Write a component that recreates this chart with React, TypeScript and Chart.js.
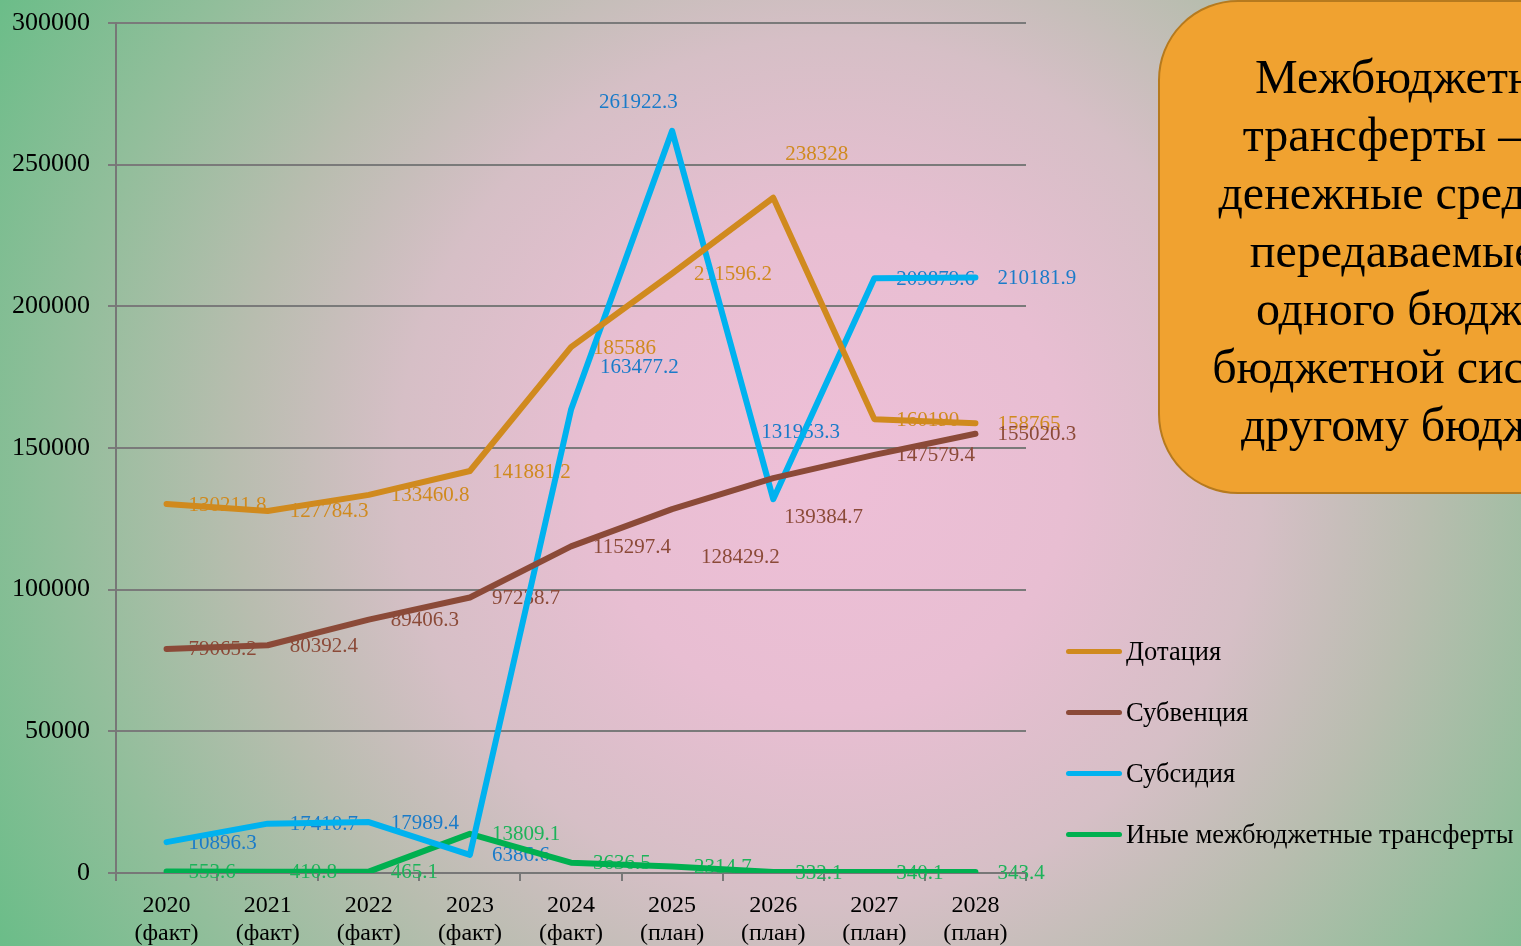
import React, { useEffect, useRef } from "react";
import { Chart, registerables } from "chart.js";

Chart.register(...registerables);

const years = ["2020", "2021", "2022", "2023", "2024", "2025", "2026", "2027", "2028"];
const periodKinds = ["(факт)", "(факт)", "(факт)", "(факт)", "(факт)", "(план)", "(план)", "(план)", "(план)"];

const seriesNames = ["Дотация", "Субвенция", "Субсидия", "Иные межбюджетные трансферты"];

const dotatsiya = [130211.8, 127784.3, 133460.8, 141881.2, 185586, 211596.2, 238328, 160190, 158765];
const subventsiya = [79065.2, 80392.4, 89406.3, 97238.7, 115297.4, 128429.2, 139384.7, 147579.4, 155020.3];
const subsidiya = [10896.3, 17410.7, 17989.4, 6386.6, 163477.2, 261922.3, 131953.3, 209879.6, 210181.9];
const inye = [553.6, 410.8, 465.1, 13809.1, 3636.5, 2314.7, 332.1, 340.1, 343.4];

const yTicks = [0, 50000, 100000, 150000, 200000, 250000, 300000];

const lineColors = ["#D08A1E", "#8B4A38", "#00B2EF", "#00B050"];
const labelColors = ["#D08A1E", "#8B4A38", "#1A7BC9", "#1DB35A"];

// label placement nudges relative to the point (left edge dx, vertical centre dy)
const labelNudges: Record<string, [number, number]> = {
  "2:5": [-73, -28],
  "0:6": [12, -43],
  "2:4": [29, -42],
  "2:6": [-12, -67],
  "1:6": [11, 39],
  "1:5": [29, 48],
};

const boxLines = [
  "Межбюджетные",
  "трансферты – это",
  "денежные средства,",
  "передаваемые из",
  "одного бюджета",
  "бюджетной системы",
  "другому бюджету",
];

const labelPlugin = {
  id: "valueLabels",
  beforeDatasetsDraw(chart: any) {
    const ctx = chart.ctx;
    ctx.save();
    ctx.font = '21px "Liberation Serif", serif';
    ctx.textAlign = "left";
    ctx.textBaseline = "middle";
    chart.data.datasets.forEach((ds: any, di: number) => {
      const meta = chart.getDatasetMeta(di);
      meta.data.forEach((pt: any, i: number) => {
        const v = ds.data[i];
        const n = labelNudges[di + ":" + i] || [22, 1];
        ctx.fillStyle = labelColors[di];
        ctx.fillText(String(v), pt.x + n[0], pt.y + n[1]);
      });
    });
    ctx.restore();
  },
};

export default function App() {
  const ref = useRef<HTMLCanvasElement>(null);

  useEffect(() => {
    if (!ref.current) return;
    const allSeries = [dotatsiya, subventsiya, subsidiya, inye];
    const chart = new Chart(ref.current, {
      type: "line",
      data: {
        labels: years.map((y, i) => [y, periodKinds[i]]),
        datasets: allSeries.map((d, i) => ({
          label: seriesNames[i],
          data: d,
          borderColor: lineColors[i],
          backgroundColor: lineColors[i],
          borderWidth: 6,
          pointRadius: 0,
          tension: 0,
          borderCapStyle: "round" as const,
          borderJoinStyle: "round" as const,
        })),
      },
      options: {
        responsive: false,
        animation: false,
        layout: { padding: { left: 0, top: 23, right: 495, bottom: 0 } },
        plugins: {
          legend: { display: false },
          tooltip: { enabled: false },
        },
        scales: {
          x: {
            offset: true,
            afterFit: (s: any) => {
              s.height = 73;
              s.paddingLeft = 0;
              s.paddingRight = 0;
            },
            grid: {
              offset: true,
              drawOnChartArea: false,
              drawTicks: true,
              tickLength: 8,
              color: "#777777",
              lineWidth: 2,
            },
            border: { color: "#777777", width: 2 },
            ticks: {
              color: "#000000",
              font: { family: '"Liberation Serif", serif', size: 24, lineHeight: 1.17 },
              padding: 11,
              maxRotation: 0,
              autoSkip: false,
            },
          },
          y: {
            min: 0,
            max: 300000,
            afterFit: (s: any) => {
              s.width = 116;
              s.paddingTop = 0;
              s.paddingBottom = 0;
            },
            afterBuildTicks: (s: any) => {
              s.ticks = yTicks.map((v) => ({ value: v }));
            },
            grid: {
              color: "#7A7A7A",
              lineWidth: 2,
              tickLength: 8,
            },
            border: { color: "#777777", width: 2 },
            ticks: {
              color: "#000000",
              font: { family: '"Liberation Serif", serif', size: 26 },
              padding: 18,
              callback: (v: any) => String(v),
            },
          },
        },
      },
      plugins: [labelPlugin],
    });
    return () => chart.destroy();
  }, []);

  return (
    <div
      style={{
        position: "fixed",
        left: 0,
        top: 0,
        width: 1521,
        height: 946,
        overflow: "hidden",
        background:
          "radial-gradient(circle 960px at 830px 470px, #EEBFD7 0%, #E8BED2 25%, #D6BFC6 45%, #B8BDAF 62%, #92BE9B 80%, #6ABD88 100%)",
        fontFamily: '"Liberation Serif", serif',
      }}
    >
      <canvas ref={ref} width={1521} height={946} style={{ position: "absolute", left: 0, top: 0 }} />
      <div
        style={{
          position: "absolute",
          left: 1158,
          top: 0,
          width: 526,
          height: 494,
          boxSizing: "border-box",
          background: "#F0A230",
          border: "2px solid #B67A1E",
          borderRadius: 80,
        }}
      >
        <div
          style={{
            position: "absolute",
            left: 0,
            right: 0,
            top: 46,
            textAlign: "center",
            fontSize: 48,
            lineHeight: "58px",
            color: "#000",
            whiteSpace: "nowrap",
          }}
        >
          {boxLines.map((l, i) => (
            <div key={i}>{l}</div>
          ))}
        </div>
      </div>
      {seriesNames.map((name, i) => (
        <div
          key={name}
          style={{
            position: "absolute",
            left: 1066,
            top: 651 + i * 61 - 16,
            height: 32,
            display: "flex",
            alignItems: "center",
            whiteSpace: "nowrap",
          }}
        >
          <div
            style={{
              width: 56,
              height: 5,
              borderRadius: 3,
              background: lineColors[i],
              marginRight: 4,
            }}
          />
          <span style={{ fontSize: 26.5, color: "#000" }}>{name}</span>
        </div>
      ))}
    </div>
  );
}
